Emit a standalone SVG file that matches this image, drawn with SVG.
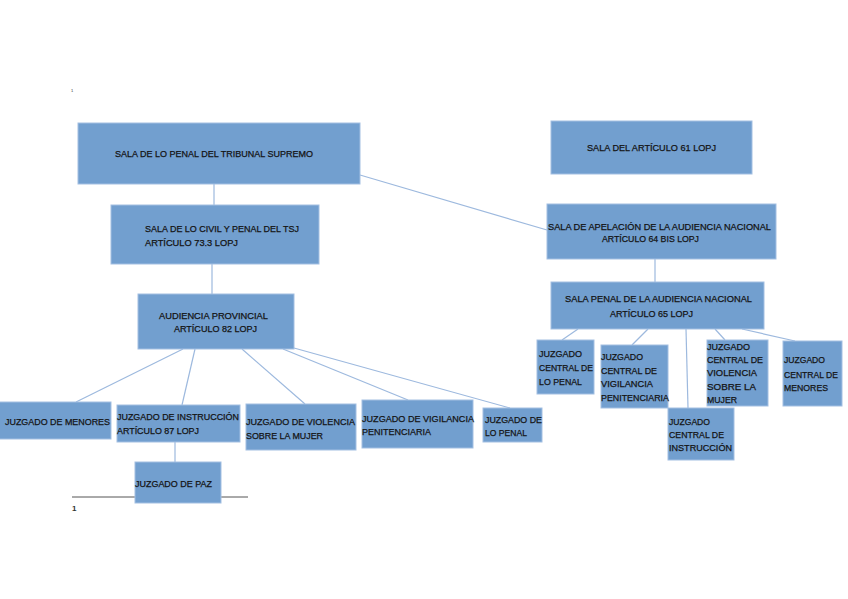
<svg xmlns="http://www.w3.org/2000/svg" width="848" height="599" viewBox="0 0 848 599">
<style>
.b{fill:#729fcf;stroke:#a3bfe2;stroke-width:1}
.t{font-family:"Liberation Sans",Arial,sans-serif;font-size:9px;fill:#141414;stroke:#141414;stroke-width:0.25}
.c{stroke:#9db9de;stroke-width:1.2;fill:none}
</style>
<rect width="848" height="599" fill="#ffffff"/>
<text x="71" y="92" style="font-family:'Liberation Sans',Arial,sans-serif;font-size:4px;fill:#333">1</text>
<line x1="72" y1="497" x2="248" y2="497" stroke="#555" stroke-width="1"/>
<text x="72" y="511" style="font-family:'Liberation Sans',Arial,sans-serif;font-size:8px;font-weight:bold;fill:#333">1</text>
<g id="connectors">
<line class="c" x1="214" y1="184" x2="214" y2="205"/>
<line class="c" x1="360" y1="175" x2="547" y2="230"/>
<line class="c" x1="212" y1="264" x2="212" y2="294"/>
<line class="c" x1="655" y1="259" x2="655" y2="282"/>
<line class="c" x1="183" y1="349" x2="76" y2="402"/>
<line class="c" x1="195" y1="349" x2="182" y2="405"/>
<line class="c" x1="242" y1="349" x2="305" y2="404"/>
<line class="c" x1="283" y1="349" x2="408" y2="400"/>
<line class="c" x1="294" y1="348" x2="510" y2="408"/>
<line class="c" x1="175" y1="442" x2="175" y2="462"/>
<line class="c" x1="578" y1="329" x2="562" y2="340"/>
<line class="c" x1="648" y1="329" x2="632" y2="345"/>
<line class="c" x1="686" y1="329" x2="688" y2="408"/>
<line class="c" x1="715" y1="329" x2="725" y2="340"/>
<line class="c" x1="742" y1="329" x2="795" y2="341"/>
</g>
<g id="ts">
<rect class="b" x="78" y="123" width="282" height="61"/>
<text class="t" x="115" y="157" textLength="198" lengthAdjust="spacingAndGlyphs">SALA DE LO PENAL DEL TRIBUNAL SUPREMO</text>
</g>
<g id="art61">
<rect class="b" x="551" y="121" width="201" height="53"/>
<text class="t" x="587" y="151" textLength="129" lengthAdjust="spacingAndGlyphs">SALA DEL ARTÍCULO 61 LOPJ</text>
</g>
<g id="tsj">
<rect class="b" x="111" y="205" width="208" height="59"/>
<text class="t" x="145" y="232" textLength="154" lengthAdjust="spacingAndGlyphs">SALA DE LO CIVIL Y PENAL DEL TSJ</text>
<text class="t" x="145" y="246" textLength="93" lengthAdjust="spacingAndGlyphs">ARTÍCULO 73.3 LOPJ</text>
</g>
<g id="ap">
<rect class="b" x="138" y="294" width="156" height="55"/>
<text class="t" x="159" y="319" textLength="109" lengthAdjust="spacingAndGlyphs">AUDIENCIA PROVINCIAL</text>
<text class="t" x="174" y="332" textLength="83" lengthAdjust="spacingAndGlyphs">ARTÍCULO 82 LOPJ</text>
</g>
<g id="apelacion">
<rect class="b" x="547" y="204" width="229" height="55"/>
<text class="t" x="548" y="230" textLength="223" lengthAdjust="spacingAndGlyphs">SALA DE APELACIÓN DE LA AUDIENCIA NACIONAL</text>
<text class="t" x="602" y="242" textLength="97" lengthAdjust="spacingAndGlyphs">ARTÍCULO 64 BIS LOPJ</text>
</g>
<g id="salapenal">
<rect class="b" x="551" y="282" width="213" height="47"/>
<text class="t" x="565" y="302" textLength="187" lengthAdjust="spacingAndGlyphs">SALA PENAL DE LA AUDIENCIA NACIONAL</text>
<text class="t" x="610" y="317" textLength="83" lengthAdjust="spacingAndGlyphs">ARTÍCULO 65 LOPJ</text>
</g>
<g id="menores">
<rect class="b" x="-1" y="402" width="112" height="37"/>
<text class="t" x="5" y="425" textLength="105" lengthAdjust="spacingAndGlyphs">JUZGADO DE MENORES</text>
</g>
<g id="instruccion">
<rect class="b" x="117" y="405" width="123" height="37"/>
<text class="t" x="117" y="420" textLength="122" lengthAdjust="spacingAndGlyphs">JUZGADO DE INSTRUCCIÓN</text>
<text class="t" x="117" y="434" textLength="82" lengthAdjust="spacingAndGlyphs">ARTÍCULO 87 LOPJ</text>
</g>
<g id="paz">
<rect class="b" x="135" y="462" width="86" height="41"/>
<text class="t" x="135" y="487" textLength="77" lengthAdjust="spacingAndGlyphs">JUZGADO DE PAZ</text>
</g>
<g id="violencia">
<rect class="b" x="246" y="404" width="110" height="46"/>
<text class="t" x="246" y="425" textLength="109" lengthAdjust="spacingAndGlyphs">JUZGADO DE VIOLENCIA</text>
<text class="t" x="246" y="439" textLength="77" lengthAdjust="spacingAndGlyphs">SOBRE LA MUJER</text>
</g>
<g id="vigilancia">
<rect class="b" x="362" y="400" width="111" height="48"/>
<text class="t" x="362" y="422" textLength="112" lengthAdjust="spacingAndGlyphs">JUZGADO DE VIGILANCIA</text>
<text class="t" x="362" y="435" textLength="69" lengthAdjust="spacingAndGlyphs">PENITENCIARIA</text>
</g>
<g id="lopenal">
<rect class="b" x="483" y="408" width="59" height="34"/>
<text class="t" x="485" y="423" textLength="57" lengthAdjust="spacingAndGlyphs">JUZGADO DE</text>
<text class="t" x="485" y="436" textLength="42" lengthAdjust="spacingAndGlyphs">LO PENAL</text>
</g>
<g id="c-lopenal">
<rect class="b" x="537" y="340" width="57" height="54"/>
<text class="t" x="539" y="357" textLength="43" lengthAdjust="spacingAndGlyphs">JUZGADO</text>
<text class="t" x="539" y="371" textLength="54" lengthAdjust="spacingAndGlyphs">CENTRAL DE</text>
<text class="t" x="539" y="385" textLength="43" lengthAdjust="spacingAndGlyphs">LO PENAL</text>
</g>
<g id="c-vigilancia">
<rect class="b" x="601" y="345" width="67" height="63"/>
<text class="t" x="601" y="360" textLength="42" lengthAdjust="spacingAndGlyphs">JUZGADO</text>
<text class="t" x="601" y="374" textLength="56" lengthAdjust="spacingAndGlyphs">CENTRAL DE</text>
<text class="t" x="601" y="387" textLength="52" lengthAdjust="spacingAndGlyphs">VIGILANCIA</text>
<text class="t" x="601" y="401" textLength="68" lengthAdjust="spacingAndGlyphs">PENITENCIARIA</text>
</g>
<g id="c-instruccion">
<rect class="b" x="668" y="408" width="66" height="52"/>
<text class="t" x="669" y="425" textLength="41" lengthAdjust="spacingAndGlyphs">JUZGADO</text>
<text class="t" x="669" y="438" textLength="55" lengthAdjust="spacingAndGlyphs">CENTRAL DE</text>
<text class="t" x="669" y="451" textLength="63" lengthAdjust="spacingAndGlyphs">INSTRUCCIÓN</text>
</g>
<g id="c-violencia">
<rect class="b" x="707" y="340" width="61" height="66"/>
<text class="t" x="707" y="350" textLength="43" lengthAdjust="spacingAndGlyphs">JUZGADO</text>
<text class="t" x="707" y="363" textLength="56" lengthAdjust="spacingAndGlyphs">CENTRAL DE</text>
<text class="t" x="707" y="376" textLength="50" lengthAdjust="spacingAndGlyphs">VIOLENCIA</text>
<text class="t" x="707" y="390" textLength="49" lengthAdjust="spacingAndGlyphs">SOBRE LA</text>
<text class="t" x="707" y="403" textLength="30" lengthAdjust="spacingAndGlyphs">MUJER</text>
</g>
<g id="c-menores">
<rect class="b" x="783" y="341" width="59" height="65"/>
<text class="t" x="784" y="363" textLength="41" lengthAdjust="spacingAndGlyphs">JUZGADO</text>
<text class="t" x="784" y="378" textLength="54" lengthAdjust="spacingAndGlyphs">CENTRAL DE</text>
<text class="t" x="784" y="391" textLength="44" lengthAdjust="spacingAndGlyphs">MENORES</text>
</g>
</svg>
